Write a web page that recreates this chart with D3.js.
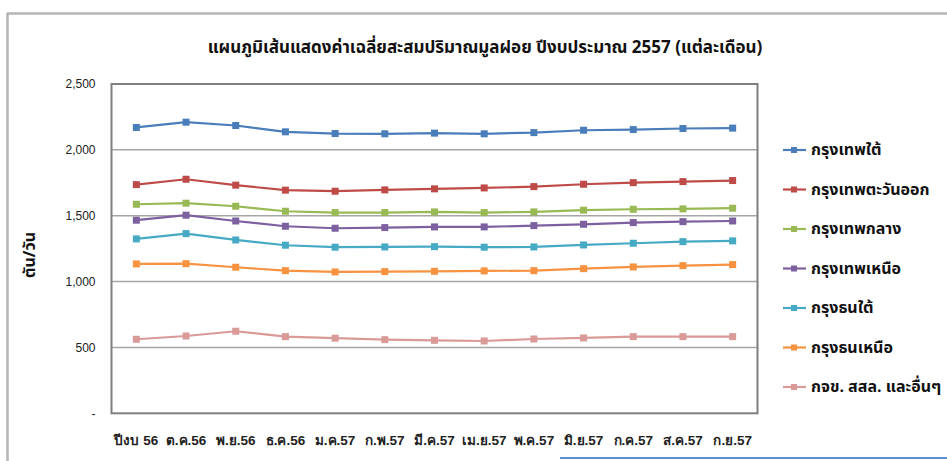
<!DOCTYPE html>
<html><head><meta charset="utf-8">
<script src="https://cdn.jsdelivr.net/npm/d3@7"></script>
<style>body{margin:0;background:#fff;} svg{display:block;font-family:Tahoma,"Noto Sans Thai","Noto Sans","DejaVu Sans",sans-serif;}</style>
</head><body>
<svg id="c" width="947" height="461"></svg>
<script>
const categories = ["ปีงบ 56","ต.ค.56","พ.ย.56","ธ.ค.56","ม.ค.57","ก.พ.57","มี.ค.57","เม.ย.57","พ.ค.57","มิ.ย.57","ก.ค.57","ส.ค.57","ก.ย.57"];
const seriesNames = ["กรุงเทพใต้","กรุงเทพตะวันออก","กรุงเทพกลาง","กรุงเทพเหนือ","กรุงธนใต้","กรุงธนเหนือ","กจข. สสล. และอื่นๆ"];
const bkkSouth = [2170,2210,2185,2137,2124,2122,2127,2122,2131,2149,2154,2162,2165];
const bkkEast  = [1736,1777,1732,1694,1686,1696,1704,1711,1721,1739,1751,1759,1767];
const bkkCentral = [1587,1595,1572,1534,1524,1524,1529,1524,1529,1542,1549,1552,1557];
const bkkNorth = [1466,1504,1460,1420,1405,1410,1415,1415,1425,1435,1448,1455,1460];
const thonSouth = [1324,1364,1316,1276,1261,1263,1265,1261,1263,1278,1291,1303,1309];
const thonNorth = [1134,1136,1109,1083,1073,1076,1078,1081,1083,1098,1111,1121,1129];
const others = [562,587,623,582,570,559,554,549,564,572,582,582,582];
const yTicks = [0,500,1000,1500,2000,2500];
const yTickLabels = ["-","500","1,000","1,500","2,000","2,500"];
const colors = ["#4A7EBB","#BE4B48","#98B954","#7D60A0","#46AAC5","#F69240","#D99A98"];
const title = "แผนภูมิเส้นแสดงค่าเฉลี่ยสะสมปริมาณมูลฝอย ปีงบประมาณ 2557 (แต่ละเดือน)";
const yLabel = "ตัน/วัน";

const allSeries = [bkkSouth,bkkEast,bkkCentral,bkkNorth,thonSouth,thonNorth,others];
const svg = d3.select("#c");

// outer frame
svg.append("line").attr("x1",7).attr("x2",947).attr("y1",13.5).attr("y2",13.5).attr("stroke","#b4b4b4").attr("stroke-width",2.5);
svg.append("line").attr("x1",7.5).attr("x2",7.5).attr("y1",13).attr("y2",461).attr("stroke","#b4b4b4").attr("stroke-width",2.5);
svg.append("line").attr("x1",560).attr("x2",947).attr("y1",458).attr("y2",458).attr("stroke","#5b8fd6").attr("stroke-width",2);

const L=111.5, R=757.5, T=84, B=413.3;
const x = d3.scaleBand().domain(categories).range([L,R]);
const y = d3.scaleLinear().domain([0,2500]).range([B,T]);

// gridlines
svg.append("g").selectAll("line").data(yTicks.filter(v=>v>0 && v<2500)).join("line")
  .attr("x1",L).attr("x2",R).attr("y1",d=>y(d)).attr("y2",d=>y(d))
  .attr("stroke","#a6a6a6").attr("stroke-width",1.5);

// plot border
svg.append("rect").attr("x",L).attr("y",T).attr("width",R-L).attr("height",B-T)
  .attr("fill","none").attr("stroke","#7f7f7f").attr("stroke-width",2);

// y axis labels
const yAxis = d3.axisLeft(y).tickValues(yTicks).tickFormat((d,i)=>yTickLabels[i]).tickSize(0).tickPadding(16);
const ga = svg.append("g").attr("transform",`translate(${L},0)`).call(yAxis);
ga.select(".domain").remove();
ga.selectAll("text").attr("font-size",12).attr("fill","#222").style("font-family","inherit");

// x axis labels
const xAxis = d3.axisBottom(x).tickSize(0).tickPadding(22);
const gx = svg.append("g").attr("transform",`translate(0,${B})`).call(xAxis);
gx.select(".domain").remove();
gx.selectAll("text").attr("font-size",13.5).attr("font-weight","bold").attr("fill","#222").style("font-family","inherit");

// lines
const line = d3.line().x((d,i)=>x(categories[i])+x.bandwidth()/2).y(d=>y(d));
allSeries.forEach((s,k)=>{
  const g = svg.append("g");
  g.append("path").datum(s).attr("d",line).attr("fill","none").attr("stroke",colors[k]).attr("stroke-width",2.2);
  g.selectAll("rect").data(s).join("rect")
    .attr("x",(d,i)=>x(categories[i])+x.bandwidth()/2-3.5).attr("y",d=>y(d)-3.5)
    .attr("width",7).attr("height",7).attr("fill",colors[k]);
});

// title
svg.append("text").attr("x",485).attr("y",53).attr("text-anchor","middle")
  .attr("font-size",17).attr("font-weight","bold").attr("fill","#111").text(title);

// y label
svg.append("text").attr("transform","translate(35,255) rotate(-90)").attr("text-anchor","middle")
  .attr("font-size",16).attr("font-weight","bold").attr("fill","#111").text(yLabel);

// legend
const leg = svg.append("g");
seriesNames.forEach((n,k)=>{
  const yy = 150 + k*39.5;
  leg.append("line").attr("x1",783).attr("x2",806).attr("y1",yy).attr("y2",yy).attr("stroke",colors[k]).attr("stroke-width",2.2);
  leg.append("rect").attr("x",791).attr("y",yy-3).attr("width",6).attr("height",6).attr("fill",colors[k]);
  leg.append("text").attr("x",811).attr("y",yy+5).attr("font-size",16).attr("font-weight","bold").attr("fill","#111").text(n);
});
</script>
</body></html>
